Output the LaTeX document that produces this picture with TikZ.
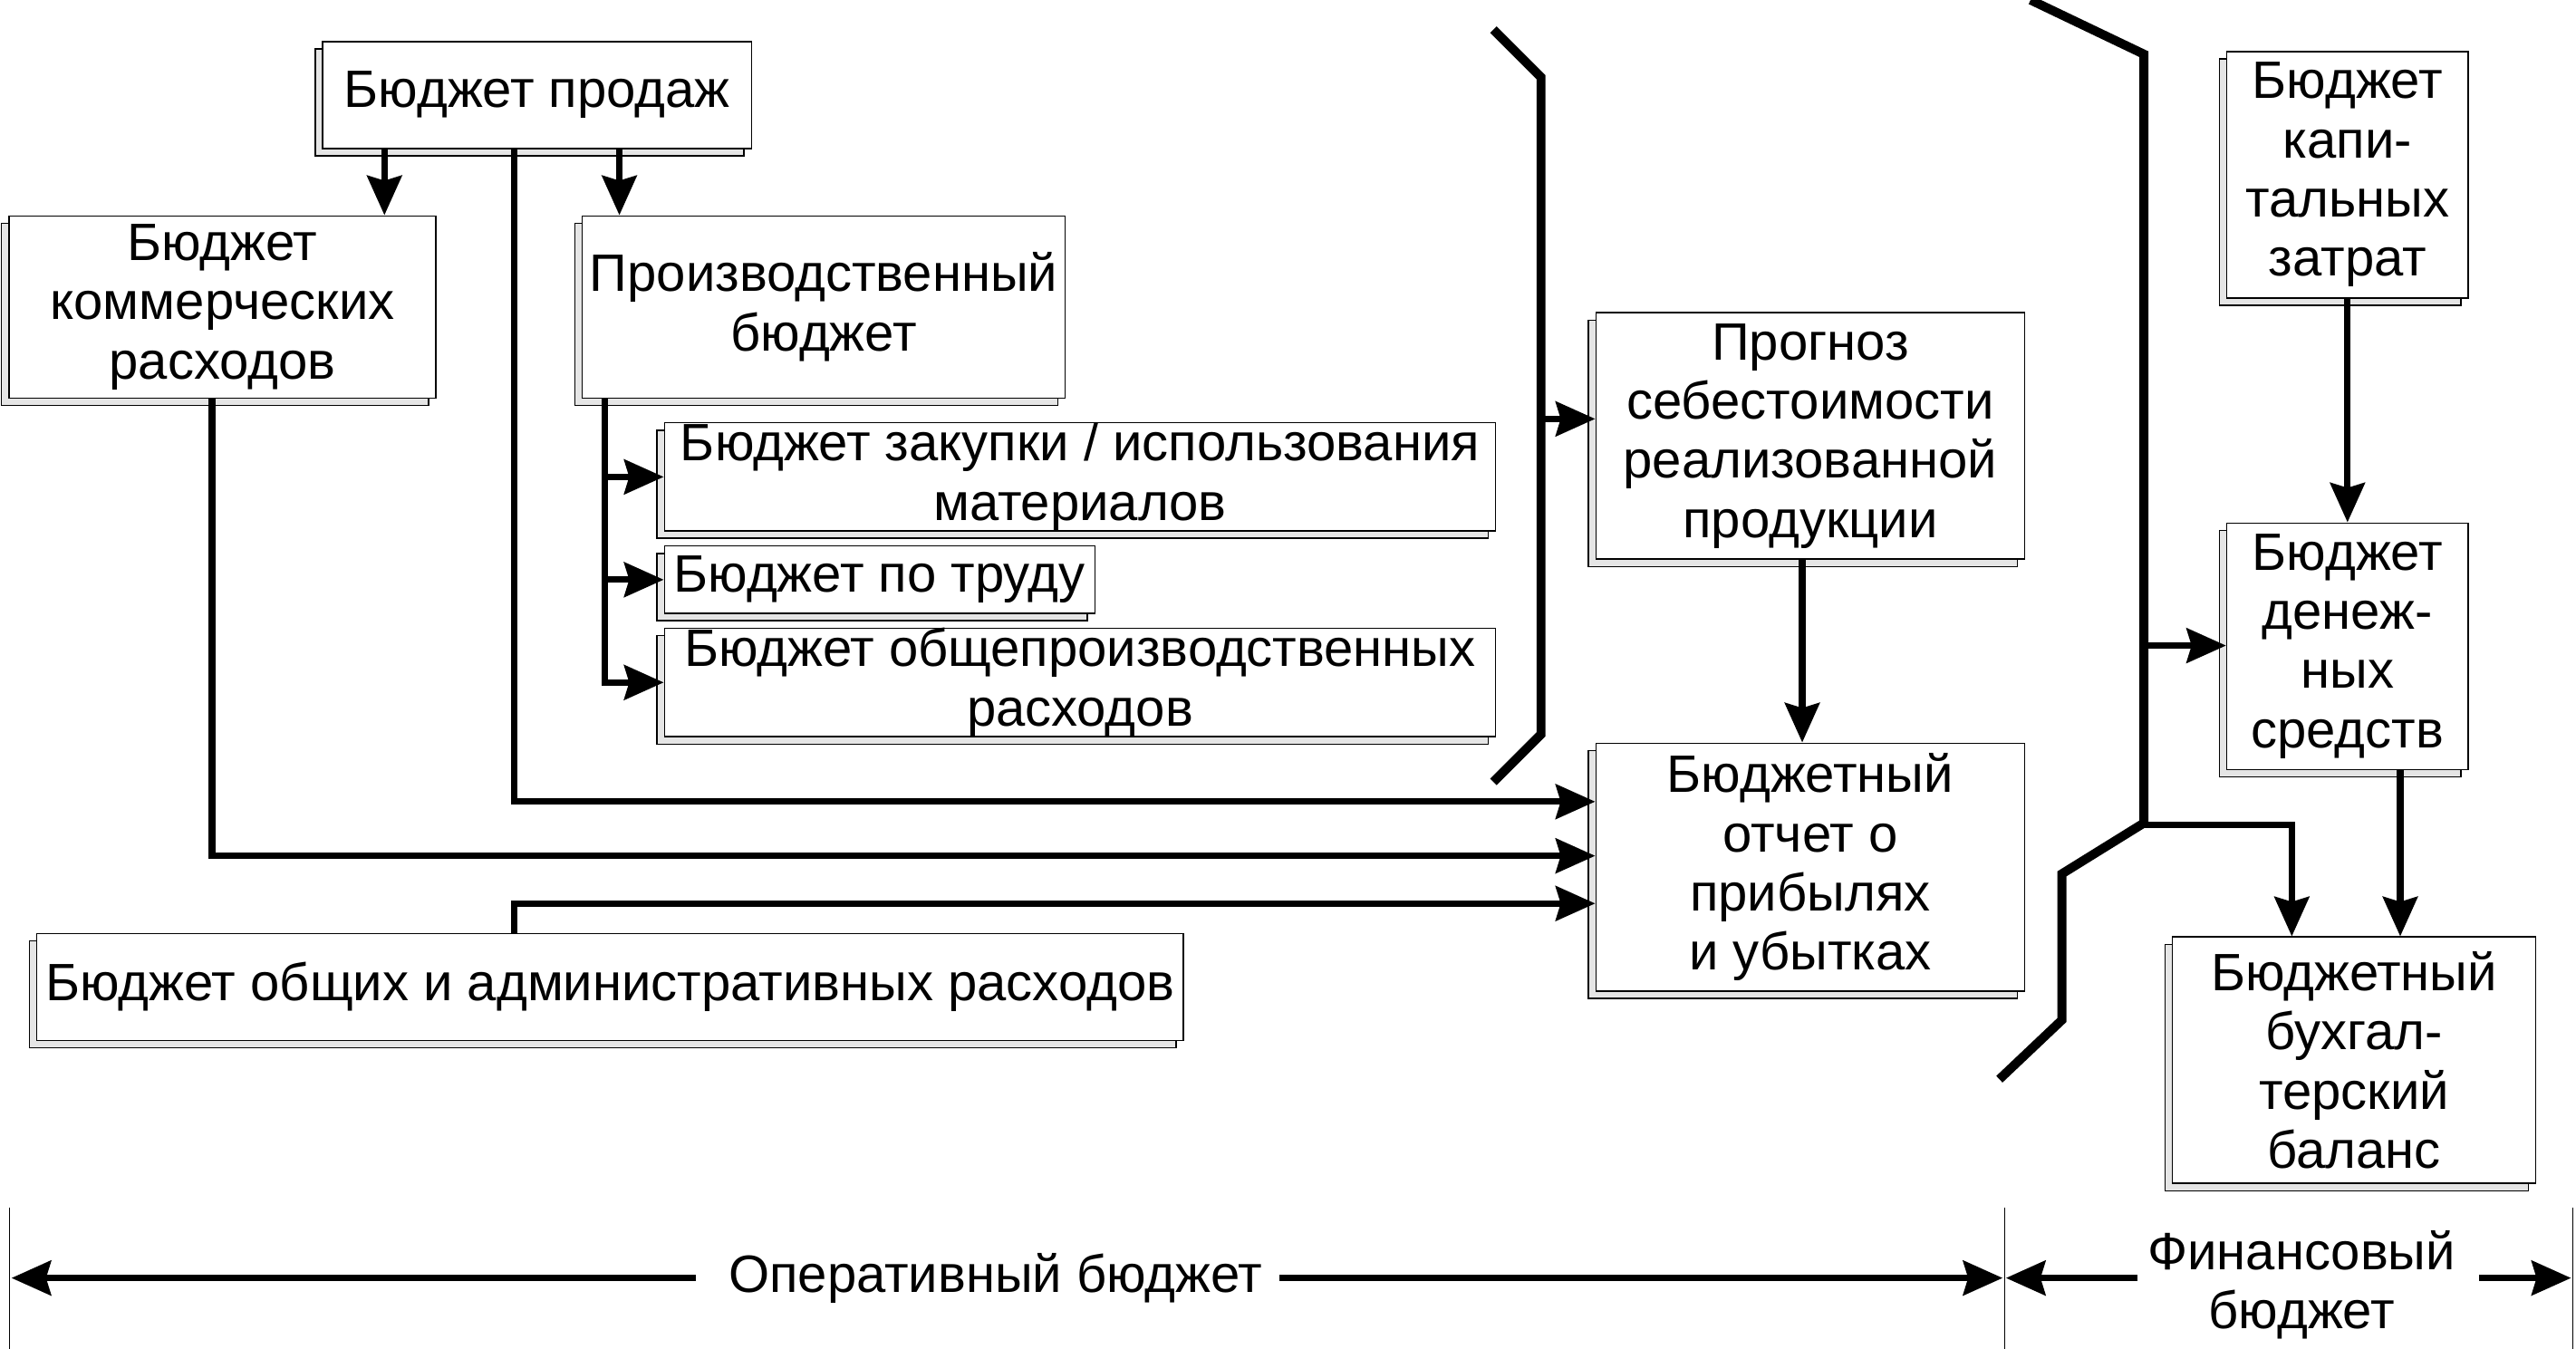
\documentclass[tikz,border=0pt]{standalone}
\usepackage{fontspec}
\setmainfont{Liberation Sans}
\usepackage{tikz}
\usetikzlibrary{arrows.meta,shadows}

\begin{document}
\begin{tikzpicture}[
x=1pt,y=-1pt,
font=\fontsize{32}{36}\selectfont,
budget/.style={draw=black,line width=0.8pt,fill=white,inner sep=0pt,align=center,anchor=north west,
  general shadow={shadow xshift=-4.5pt,shadow yshift=-4.5pt,fill=black!10,draw=black,line width=0.8pt}},
link/.style={line width=4pt,-{Stealth[length=24pt,width=21pt,inset=3pt]}},
border/.style={line width=5.5pt},
edge/.style={line width=0.6pt}
]
\useasboundingbox (0,0) rectangle (1568,821);
% operational budgets
\node[budget,minimum width=261pt,minimum height=65pt] (sales) at (196,25) {Бюджет продаж};
\node[budget,minimum width=260pt,minimum height=111pt] (komm) at (5,131) {Бюджет\\ коммерческих\\ расходов};
\node[budget,minimum width=294pt,minimum height=111pt] (prod) at (354,131) {Производственный\\ бюджет};
\node[budget,minimum width=506pt,minimum height=65pt] (zakup) at (404,257) {Бюджет закупки / использования\\ материалов};
\node[budget,minimum width=262pt,minimum height=41pt] (trud) at (404,332) {Бюджет по труду};
\node[budget,minimum width=506pt,minimum height=65pt] (obshch) at (404,382) {Бюджет общепроизводственных\\ расходов};
\node[budget,minimum width=698pt,minimum height=65pt] (adm) at (22,568) {Бюджет общих и административных расходов};
\node[budget,minimum width=261pt,minimum height=150pt] (prognoz) at (971,190) {Прогноз\\ себестоимости\\ реализованной\\ продукции};
\node[budget,minimum width=261pt,minimum height=151pt] (otchet) at (971,452) {Бюджетный\\ отчет о\\ прибылях\\ и убытках};
% financial budgets
\node[budget,minimum width=147pt,minimum height=150pt] (kapital) at (1355,31) {Бюджет\\ капи-\\ тальных\\ затрат};
\node[budget,minimum width=147pt,minimum height=150pt] (denezh) at (1355,318) {Бюджет\\ денеж-\\ ных\\ средств};
\node[budget,minimum width=221pt,minimum height=150pt] (balance) at (1322,570) {Бюджетный\\ бухгал-\\ терский\\ баланс};

% brackets
\draw[border] (909,18) -- (938,47) -- (938,447) -- (909,476);
\draw[border] (1236,0) -- (1305,33) -- (1305,501) -- (1255,532) -- (1255,621) -- (1217,657);
\coordinate (opbr) at (938,255);
\coordinate (finbr) at (1305,393);
\coordinate (finjoin) at (1305,502);

% links
\draw[link] (234,0 |- sales.south) -- (234,0 |- komm.north);
\draw[link] (377,0 |- sales.south) -- (377,0 |- prod.north);
\draw[link] (368,0 |- prod.south) |- (obshch.west);
\foreach \sub in {zakup,trud}
  \draw[link] (368,0 |- \sub.west) -- (\sub.west);
\draw[link] (313,0 |- sales.south) |- (otchet.west |- 0,488);
\draw[link] (129,0 |- komm.south) |- (otchet.west |- 0,521);
\draw[link] (313,0 |- adm.north) |- (otchet.west |- 0,550);
\draw[link] (opbr) -- (opbr -| prognoz.west);
\draw[link] (1097,0 |- prognoz.south) -- (1097,0 |- otchet.north);
\draw[link] (kapital.south) -- (kapital.south |- denezh.north);
\draw[link] (finbr) -- (finbr -| denezh.west);
\draw[link] (1461,0 |- denezh.south) -- (1461,0 |- balance.north);
\draw[link] (finjoin) -| (1395,0 |- balance.north);

% bottom scale
\draw[edge] (6,735) -- (6,821);
\draw[edge] (1220,735) -- (1220,821);
\draw[edge] (1566,735) -- (1566,821);
\coordinate (dimA) at (7,778);
\coordinate (dimB) at (1219,778);
\coordinate (dimC) at (1221,778);
\coordinate (dimD) at (1565,778);
\node[inner sep=0pt] (oper) at (606,778) {Оперативный бюджет};
\node[inner sep=0pt,align=center] (fin) at (1401,782) {Финансовый\\ бюджет};
\draw[link] ([xshift=-20pt]oper.west) -- (dimA);
\draw[link] ([xshift=10pt]oper.east) -- (dimB);
\draw[link] ([xshift=-6pt]fin.west |- dimC) -- (dimC);
\draw[link] ([xshift=14pt]fin.east |- dimD) -- (dimD);
\end{tikzpicture}
\end{document}
